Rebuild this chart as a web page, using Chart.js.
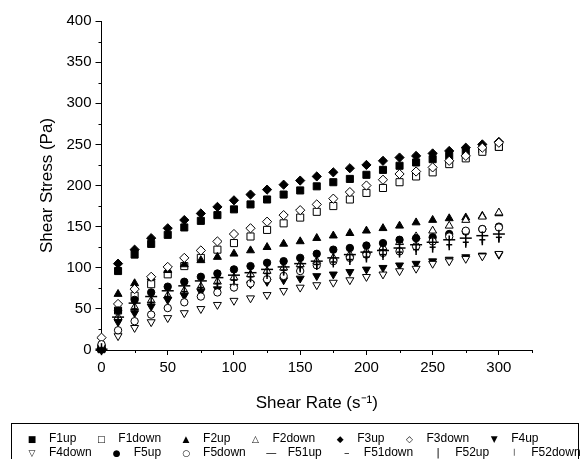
<!DOCTYPE html>
<html>
<head>
<meta charset="utf-8">
<script src="https://cdn.jsdelivr.net/npm/chart.js@4/dist/chart.umd.min.js"></script>
<style>
  body { margin: 0; background: #fff; }
  #wrap { position: relative; width: 587px; height: 459px; overflow: hidden; }
  #c { position: absolute; left: 0; top: 0; }
  #legend { position: absolute; left: 11px; top: 423px; width: 566px; height: 60px;
            border: 1px solid #000; font: 12px Arial, "Liberation Sans", sans-serif; color: #000; }
  .row { position: absolute; left: 15px; height: 14px; line-height: 14px; white-space: nowrap; }
  .sym { display: inline-block; width: 10px; text-align: center; font-family: "DejaVu Sans", sans-serif; }
  .lab { margin-left: 12px; margin-right: 20px; }
</style>
</head>
<body>
<div id="wrap">
  <canvas id="c" width="587" height="459"></canvas>
  <div id="legend"></div>
</div>
<script>
// shear rate (s-1)
var shearRate = [0, 12.5, 25, 37.5, 50, 62.5, 75, 87.5, 100, 112.5, 125, 137.5, 150,
                 162.5, 175, 187.5, 200, 212.5, 225, 237.5, 250, 262.5, 275, 287.5, 300];

// shear stress (Pa)
var F1up     = [1, 96, 116, 129, 140, 149, 157, 164, 171, 177, 183, 189, 194, 199, 204, 208, 213, 219, 224, 228, 232, 236, 240, 244, 247];
var F1down   = [3, 48, 66, 80, 92, 102, 112, 122, 130, 138, 146, 154, 161, 168, 175, 183, 191, 197, 204, 211, 216, 226, 233, 241, 247];
var F2up     = [1, 68, 81, 88, 97, 104, 109, 113, 117, 121, 125, 129, 132, 136, 139, 142, 145, 148, 151, 155, 158, 160, 161, 163, 166];
var F2down   = [2, 40, 52, 60, 66, 72, 77, 83, 88, 92, 96, 100, 104, 108, 112, 116, 120, 125, 131, 138, 145, 151, 158, 162, 167];
var F3up     = [1, 105, 122, 136, 148, 158, 166, 174, 182, 189, 195, 201, 206, 211, 216, 221, 225, 230, 234, 236, 239, 242, 246, 250, 253];
var F3down   = [15, 56, 74, 89, 101, 112, 121, 132, 141, 148, 156, 164, 170, 177, 184, 192, 200, 207, 214, 217, 222, 230, 236, 246, 252];
var F4up     = [0, 34, 45, 53, 61, 66, 71, 74, 77, 80, 83, 85, 87, 90, 92, 95, 98, 100, 103, 105, 108, 110, 113, 115, 116];
var F4down   = [3, 17, 27, 34, 39, 45, 50, 55, 60, 63, 67, 72, 76, 79, 82, 85, 89, 92, 96, 99, 105, 108, 111, 114, 117];
var F5up     = [1, 48, 61, 70, 77, 83, 89, 93, 98, 102, 106, 108, 112, 117, 122, 124, 127, 130, 134, 136, 137, 141, 144, 147, 150];
var F5down   = [7, 24, 35, 43, 51, 58, 65, 70, 76, 81, 86, 90, 96, 103, 108, 112, 116, 118, 120, 126, 132, 138, 145, 147, 149];
var F51up    = [1, 40, 57, 65, 72, 78, 84, 88, 91, 94, 98, 101, 105, 108, 112, 116, 119, 121, 124, 128, 131, 134, 136, 139, 141];
var F51down  = [1, 36, 50, 58, 65, 71, 76, 81, 85, 89, 93, 97, 101, 104, 107, 110, 113, 116, 119, 122, 125, 128, 131, 134, 137];
var F52up    = [1, 38, 54, 62, 69, 75, 81, 85, 89, 92, 96, 99, 103, 106, 110, 113, 116, 119, 122, 126, 129, 132, 134, 137, 139];
var F52down  = [1, 34, 47, 55, 62, 68, 73, 78, 82, 86, 90, 94, 98, 101, 104, 107, 110, 113, 116, 119, 122, 125, 128, 131, 134];

var seriesNames = ["F1up", "F1down", "F2up", "F2down", "F3up", "F3down", "F4up",
                   "F4down", "F5up", "F5down", "F51up", "F51down", "F52up", "F52down"];
var seriesData = [F1up, F1down, F2up, F2down, F3up, F3down, F4up,
                  F4down, F5up, F5down, F51up, F51down, F52up, F52down];

var xTicksMinor = [25, 75, 125, 175, 225, 275, 325];
var yTicksMinor = [25, 75, 125, 175, 225, 275, 325, 375];

// marker look for each series: style, filled, radius, rotation, legend glyph, glyph size
var markers = [
  { s: "rect",     f: true,  r: 5,   rot: 0,   g: "\u25A0", gs: 9 },
  { s: "rect",     f: false, r: 5,   rot: 0,   g: "\u25A1", gs: 9 },
  { s: "triangle", f: true,  r: 4.6, rot: 0,   g: "\u25B2", gs: 9 },
  { s: "triangle", f: false, r: 4.6, rot: 0,   g: "\u25B3", gs: 9 },
  { s: "rectRot",  f: true,  r: 4.6, rot: 0,   g: "\u25C6", gs: 9 },
  { s: "rectRot",  f: false, r: 4.6, rot: 0,   g: "\u25C7", gs: 9 },
  { s: "triangle", f: true,  r: 4.6, rot: 180, g: "\u25BC", gs: 9 },
  { s: "triangle", f: false, r: 4.6, rot: 180, g: "\u25BD", gs: 9 },
  { s: "circle",   f: true,  r: 3.7, rot: 0,   g: "\u25CF", gs: 9 },
  { s: "circle",   f: false, r: 3.7, rot: 0,   g: "\u25CB", gs: 9 },
  { s: "line",     f: true,  r: 6,   rot: 0,   g: "\u2014", gs: 11 },
  { s: "line",     f: true,  r: 3,   rot: 0,   g: "\u2013", gs: 11 },
  { s: "line",     f: true,  r: 6,   rot: 90,  g: "|",      gs: 11 },
  { s: "line",     f: true,  r: 3,   rot: 90,  g: "|",      gs: 7 }
];

var datasets = seriesNames.map(function (name, i) {
  var m = markers[i];
  return {
    label: name,
    data: shearRate.map(function (x, k) { return { x: x, y: seriesData[i][k] }; }),
    showLine: false,
    pointStyle: m.s,
    pointRadius: m.r,
    pointHoverRadius: m.r,
    pointRotation: m.rot,
    pointBackgroundColor: m.f ? "#000" : "#fff",
    pointBorderColor: "#000",
    pointBorderWidth: m.s === "line" ? 1.5 : 1,
    clip: false,
    order: seriesNames.length - i
  };
});

var minorTicks = {
  id: "minorTicks",
  afterDraw: function (chart) {
    var ctx = chart.ctx, xs = chart.scales.x, ys = chart.scales.y;
    ctx.save();
    ctx.strokeStyle = "#000";
    ctx.lineWidth = 1;
    ctx.beginPath();
    xTicksMinor.forEach(function (v) {
      var px = Math.round(xs.getPixelForValue(v)) + 0.5;
      ctx.moveTo(px, ys.bottom);
      ctx.lineTo(px, ys.bottom + 3);
    });
    yTicksMinor.forEach(function (v) {
      var py = Math.round(ys.getPixelForValue(v)) + 0.5;
      ctx.moveTo(xs.left, py);
      ctx.lineTo(xs.left - 3, py);
    });
    ctx.stroke();
    ctx.restore();
  }
};

var font = 'Arial, "Liberation Sans", sans-serif';

new Chart("c", {
  type: "scatter",
  data: { datasets: datasets },
  plugins: [minorTicks],
  options: {
    responsive: false,
    animation: false,
    events: [],
    layout: { padding: { left: 0, right: 55, top: 21, bottom: 45 } },
    plugins: { legend: { display: false }, tooltip: { enabled: false } },
    scales: {
      x: {
        type: "linear",
        min: 0, max: 325,
        afterFit: function (s) { s.height = 64; },
        border: { color: "#000", width: 1 },
        grid: { drawOnChartArea: false, tickLength: 5, color: "#000" },
        ticks: { stepSize: 50, includeBounds: false, padding: 4, color: "#000",
                 font: { family: font, size: 15 } },
        title: { display: true, text: "Shear Rate (s\u207B\u00B9)", color: "#000",
                 padding: { top: 0, bottom: 0 }, font: { family: font, size: 17 } }
      },
      y: {
        min: 0, max: 400,
        afterFit: function (s) { s.width = 101.5; },
        border: { color: "#000", width: 1 },
        grid: { drawOnChartArea: false, tickLength: 6, color: "#000" },
        ticks: { stepSize: 50, padding: 4, color: "#000",
                 font: { family: font, size: 15 } },
        title: { display: true, text: "Shear Stress (Pa)", color: "#000",
                 padding: { top: 37, bottom: 0 }, font: { family: font, size: 17 } }
      }
    }
  }
});

// legend box under the plot, two rows like the original
var legend = document.getElementById("legend");
[[0, 7], [7, 14]].forEach(function (rg, r) {
  var row = document.createElement("div");
  row.className = "row";
  row.style.top = (7 + r * 14) + "px";
  for (var i = rg[0]; i < rg[1]; i++) {
    var sym = document.createElement("span");
    sym.className = "sym";
    sym.textContent = markers[i].g;
    sym.style.fontSize = markers[i].gs + "px";
    if (markers[i].gs < 9) sym.style.verticalAlign = "2px";
    var lab = document.createElement("span");
    lab.className = "lab";
    lab.textContent = seriesNames[i];
    row.appendChild(sym);
    row.appendChild(lab);
  }
  legend.appendChild(row);
});
</script>
</body>
</html>
